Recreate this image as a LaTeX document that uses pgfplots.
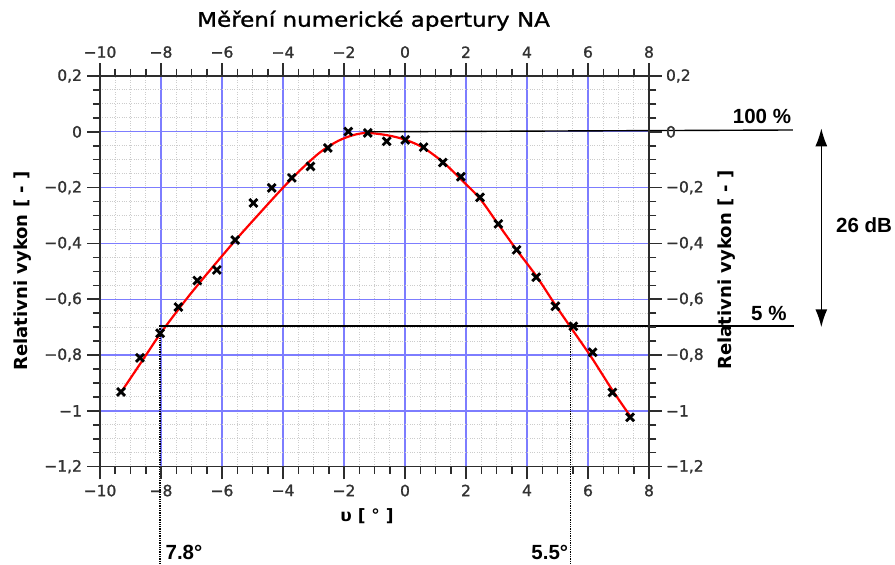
\documentclass[border=0pt]{standalone}
\usepackage{fontspec}
\setmainfont{DejaVu Sans}
\newfontfamily\annfont{Liberation Sans}
\newfontfamily\heavyfont{DejaVu Sans}[FakeBold=1.2]
\usepackage{graphicx}
\usepackage{pgfplots}
\pgfplotsset{compat=1.18}
\usetikzlibrary{arrows.meta}
\definecolor{gridblue}{RGB}{125,125,255}
\definecolor{axgray}{RGB}{45,45,45}
\definecolor{ticktext}{RGB}{50,50,50}
\pgfplotsset{
  common/.style={
    scale only axis, width=549pt, height=390.7pt,
    xmin=-10, xmax=8, ymin=-1.2, ymax=0.2,
    xtick={-10,-8,-6,-4,-2,0,2,4,6,8},
    ytick={-1.2,-1,-0.8,-0.6,-0.4,-0.2,0,0.2},
    xticklabels={−10,−8,−6,−4,−2,0,2,4,6,8},
    yticklabels={{−1,2},{−1},{−0,8},{−0,6},{−0,4},{−0,2},{0},{0,2}},
    minor x tick num=3, minor y tick num=3,
    tick align=outside, major tick length=12.5pt, minor tick length=7pt,
    tick style={axgray, line width=1.5pt},
    axis line style={axgray, line width=1.5pt},
    tick label style={font=\heavyfont\fontsize{15.5}{15.5}\selectfont, text=ticktext},
    clip=false,
  }
}
\begin{document}
\begin{tikzpicture}
\begin{axis}[common,
  grid=both,
  major grid style={gridblue, line width=1.3pt},
  minor grid style={gray!40, dotted, line width=0.9pt},
  xticklabel style={yshift=-2pt},
  yticklabel style={xshift=-2pt},
]
\addplot[red, line width=2.2pt, smooth] coordinates {
(-9.29,-0.930) (-8.6,-0.818) (-8.0,-0.720) (-7.2,-0.604) (-6.5,-0.510)
(-5.57,-0.390) (-4.8,-0.296) (-4.04,-0.205) (-3.44,-0.138) (-2.79,-0.074)
(-2.2,-0.033) (-1.7,-0.012) (-1.25,-0.004) (-0.6,-0.012) (0,-0.028)
(0.6,-0.057) (1.26,-0.110) (1.85,-0.172) (2.46,-0.240) (3.06,-0.332)
(3.66,-0.423) (4.32,-0.519) (4.92,-0.619) (5.41,-0.697) (6.1,-0.806)
(6.8,-0.926) (7.38,-1.018)
};
\addplot[only marks, mark=x, mark size=5.6pt, mark options={line width=2.8pt, black}] coordinates {
(-9.31,-0.932) (-8.69,-0.810) (-8.03,-0.722) (-7.43,-0.628) (-6.81,-0.533)
(-6.17,-0.495) (-5.57,-0.388) (-4.97,-0.255) (-4.37,-0.201) (-3.71,-0.165)
(-3.10,-0.124) (-2.53,-0.058) (-1.86,0.001) (-1.22,-0.004) (-0.60,-0.034)
(0.01,-0.029) (0.61,-0.055) (1.24,-0.110) (1.83,-0.161) (2.46,-0.235)
(3.06,-0.330) (3.66,-0.423) (4.30,-0.521) (4.93,-0.625) (5.52,-0.697)
(6.15,-0.790) (6.80,-0.934) (7.38,-1.023)
};
\draw[black, line width=1.4pt] (axis cs:-1.15,0) -- (axis cs:12.72,0.0065);
\draw[black, line width=1.4pt] (axis cs:-8.05,-0.696) -- (axis cs:12.74,-0.696);
\draw[black, densely dotted, line width=1.3pt] (axis cs:-8.03,-0.696) -- (axis cs:-8.03,-1.5487);
\draw[black, densely dotted, line width=1.3pt] (axis cs:5.43,-0.696) -- (axis cs:5.43,-1.5487);
\draw[black, line width=1.5pt, {Latex[length=18pt,width=12pt]}-{Latex[length=18pt,width=12pt]}] (axis cs:13.65,0.0125) -- (axis cs:13.65,-0.7005);
\node[font=\annfont\bfseries\fontsize{20.5}{20.5}\selectfont, inner sep=0pt] at (axis cs:11.705,0.0566) {100 \%};
\node[font=\annfont\bfseries\fontsize{20.5}{20.5}\selectfont, inner sep=0pt] at (axis cs:11.93,-0.650) {5 \%};
\node[font=\annfont\bfseries\fontsize{20.5}{20.5}\selectfont, inner sep=0pt] at (axis cs:15.05,-0.336) {26 dB};
\node[font=\annfont\bfseries\fontsize{20.5}{20.5}\selectfont, inner sep=0pt, anchor=base west] at (axis cs:-7.855,-1.534) {7.8°};
\node[font=\annfont\bfseries\fontsize{20.5}{20.5}\selectfont, inner sep=0pt, anchor=base east] at (axis cs:5.354,-1.534) {5.5°};
\node[inner sep=0pt, anchor=base] at (axis cs:-1.03,0.3766) {\scalebox{1.15}[1]{\heavyfont\fontsize{20}{20}\selectfont Měření numerické apertury NA}};
\node[inner sep=0pt, font=\bfseries\fontsize{17}{17}\selectfont] at (axis cs:-1.246,-1.3767) {υ [ ° ]};
\node[inner sep=0pt, rotate=90, font=\bfseries\fontsize{18}{18}\selectfont] at (axis cs:-12.525,-0.4988) {Relativni vykon [ - ]};
\node[inner sep=0pt, rotate=90, font=\bfseries\fontsize{18}{18}\selectfont] at (axis cs:10.557,-0.495) {Relativni vykon [ - ]};
\path (axis cs:-13.2787,0.4723) rectangle (axis cs:16.0656,-1.5487);
\end{axis}
\begin{axis}[common,
  xticklabel pos=upper, yticklabel pos=right,
  xticklabel style={yshift=2pt},
  yticklabel style={xshift=1pt},
]
\end{axis}
\end{tikzpicture}
\end{document}
